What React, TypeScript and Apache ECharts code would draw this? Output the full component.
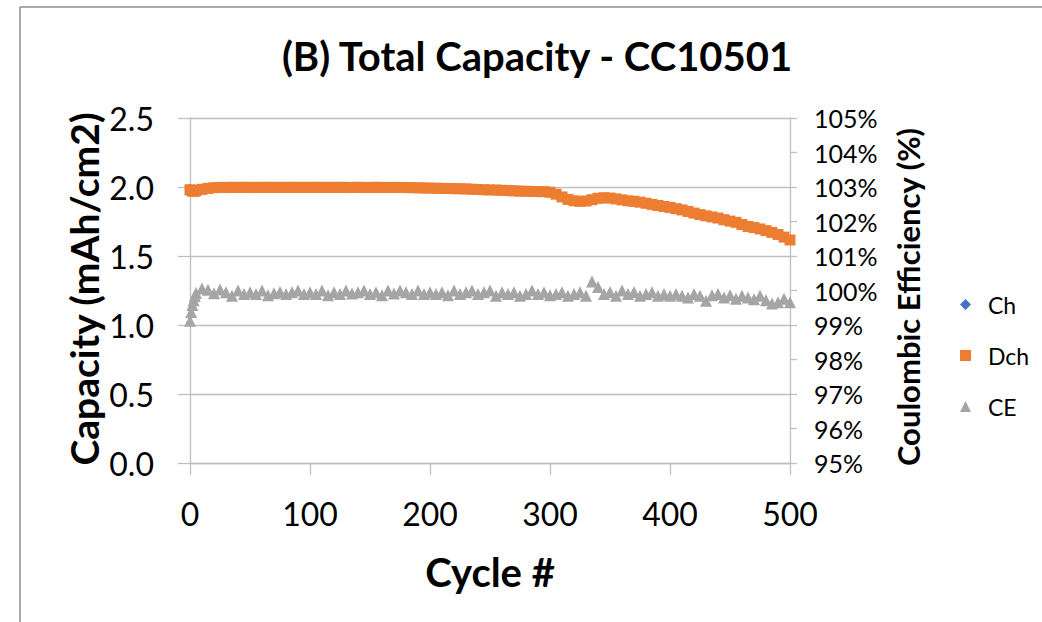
import React, { useEffect, useRef } from "react";
import * as echarts from "echarts";

const cycles = [
  0, 1, 2, 3, 4, 5,
  10, 15, 20, 25, 30, 35, 40, 45, 50,
  55, 60, 65, 70, 75, 80, 85, 90, 95, 100,
  105, 110, 115, 120, 125, 130, 135, 140, 145, 150,
  155, 160, 165, 170, 175, 180, 185, 190, 195, 200,
  205, 210, 215, 220, 225, 230, 235, 240, 245, 250,
  255, 260, 265, 270, 275, 280, 285, 290, 295, 300,
  305, 310, 315, 320, 325, 330, 335, 340, 345, 350,
  355, 360, 365, 370, 375, 380, 385, 390, 395, 400,
  405, 410, 415, 420, 425, 430, 435, 440, 445, 450,
  455, 460, 465, 470, 475, 480, 485, 490, 495, 500,
];

const dch = [
  1.98, 1.976, 1.972, 1.97, 1.971, 1.974,
  1.983, 1.99, 1.995, 1.997, 1.997, 1.998, 1.997, 1.998, 1.997,
  1.998, 1.997, 1.998, 1.997, 1.998, 1.997, 1.998, 1.997, 1.998, 1.997,
  1.998, 1.997, 1.998, 1.997, 1.998, 1.997, 1.997, 1.998, 1.997, 1.997,
  1.998, 1.997, 1.997, 1.997, 1.997, 1.996, 1.995, 1.994, 1.993, 1.992,
  1.991, 1.99, 1.989, 1.988, 1.987, 1.986, 1.984, 1.982, 1.98, 1.979,
  1.978, 1.976, 1.974, 1.972, 1.97, 1.969, 1.968, 1.967, 1.966, 1.962,
  1.948, 1.928, 1.91, 1.9, 1.896, 1.898, 1.908, 1.918, 1.922, 1.92,
  1.914, 1.907, 1.9, 1.896, 1.89, 1.882, 1.874, 1.866, 1.859, 1.852,
  1.843, 1.834, 1.823, 1.811, 1.8, 1.791, 1.783, 1.775, 1.763, 1.753,
  1.744, 1.728, 1.714, 1.706, 1.696, 1.684, 1.671, 1.656, 1.637, 1.616,
];

const ch = [
  1.995, 1.968, 1.963, 1.962, 1.963, 1.966,
  1.975, 1.982, 1.987, 1.989, 1.989, 1.99, 1.989, 1.99, 1.989,
  1.99, 1.989, 1.99, 1.989, 1.99, 1.989, 1.99, 1.989, 1.99, 1.989,
  1.99, 1.989, 1.99, 1.989, 1.99, 1.989, 1.989, 1.99, 1.989, 1.989,
  1.99, 1.989, 1.989, 1.989, 1.989, 1.988, 1.987, 1.986, 1.985, 1.984,
  1.983, 1.982, 1.981, 1.98, 1.979, 1.978, 1.976, 1.974, 1.972, 1.971,
  1.97, 1.968, 1.966, 1.964, 1.962, 1.961, 1.96, 1.959, 1.958, 1.954,
  1.94, 1.92, 1.902, 1.892, 1.888, 1.89, 1.9, 1.91, 1.914, 1.912,
  1.906, 1.899, 1.892, 1.888, 1.882, 1.874, 1.866, 1.858, 1.851, 1.844,
  1.835, 1.826, 1.815, 1.803, 1.792, 1.783, 1.775, 1.767, 1.755, 1.745,
  1.736, 1.72, 1.706, 1.698, 1.688, 1.676, 1.663, 1.648, 1.629, 1.608,
];

const ce = [
  99.12, 99.38, 99.58, 99.72, 99.84, 99.93,
  100.06, 100.02, 99.92, 100.03, 99.95, 99.85, 100.0, 99.9, 99.95,
  99.9, 100.0, 99.86, 99.92, 99.96, 99.9, 99.95, 100.0, 99.9, 99.95,
  99.9, 100.0, 99.86, 99.95, 99.9, 100.0, 99.91, 99.95, 100.0, 99.9,
  99.95, 99.86, 100.0, 99.91, 100.0, 99.95, 99.9, 100.0, 99.9, 99.95,
  99.9, 99.95, 99.86, 100.0, 99.9, 99.95, 100.0, 99.9, 99.95, 100.0,
  99.85, 99.95, 99.9, 99.95, 99.85, 99.9, 100.0, 99.9, 99.95, 99.86,
  99.9, 99.95, 99.85, 99.9, 99.95, 99.85, 100.26, 100.1, 99.9, 99.96,
  99.85, 100.0, 99.9, 99.96, 99.85, 99.9, 99.95, 99.85, 99.9, 99.85,
  99.9, 99.85, 99.8, 99.9, 99.85, 99.7, 99.86, 99.9, 99.8, 99.86,
  99.76, 99.85, 99.8, 99.75, 99.85, 99.72, 99.62, 99.66, 99.76, 99.66,
];

const seriesNames = ["Ch", "Dch", "CE"];
const titleText = "(B) Total Capacity - CC10501";
const xName = "Cycle #";
const yLeftName = "Capacity (mAh/cm2)";
const yRightName = "Coulombic Efficiency (%)";

const FONT = "Lato, 'Noto Sans', sans-serif";
const AXIS_COLOR = "#BFBFBF";

export default function App() {
  const ref = useRef<HTMLDivElement>(null);

  useEffect(() => {
    if (!ref.current) return;
    const chart = echarts.init(ref.current, null, { renderer: "svg" });
    const pairs = (vals: number[]) => cycles.map((c, i) => [c, vals[i]]);

    chart.setOption({
      animation: false,
      backgroundColor: "#ffffff",
      textStyle: { fontFamily: FONT },
      grid: { left: 190, top: 118, width: 600, height: 345 },
      legend: {
        orient: "vertical",
        left: 955,
        top: 288,
        itemWidth: 11,
        itemHeight: 11,
        itemGap: 28,
        textStyle: { fontSize: 23, fontFamily: FONT, color: "#000", lineHeight: 22, padding: [0, 0, 0, 12] },
        data: [
          { name: seriesNames[0], icon: "diamond" },
          { name: seriesNames[1], icon: "rect" },
          { name: seriesNames[2], icon: "triangle" },
        ],
      },
      xAxis: {
        type: "value",
        min: 0,
        max: 500,
        interval: 100,
        axisLine: { show: true, lineStyle: { color: AXIS_COLOR, width: 1.3 } },
        axisTick: { show: true, length: 12, lineStyle: { color: AXIS_COLOR, width: 1.3 } },
        axisLabel: { fontSize: 32, color: "#000", margin: 34, fontFamily: FONT },
        splitLine: { show: false },
      },
      yAxis: [
        {
          type: "value",
          min: 0,
          max: 2.5,
          interval: 0.5,
          axisLine: { show: true, lineStyle: { color: AXIS_COLOR, width: 1.3 } },
          axisTick: { show: true, length: 12, lineStyle: { color: AXIS_COLOR, width: 1.3 } },
          axisLabel: {
            fontSize: 32,
            color: "#000",
            margin: 36,
            fontFamily: FONT,
            formatter: (v: number) => v.toFixed(1),
          },
          splitLine: { show: true, lineStyle: { color: AXIS_COLOR, width: 1.3 } },
        },
        {
          type: "value",
          min: 95,
          max: 105,
          interval: 1,
          position: "right",
          axisLine: { show: true, lineStyle: { color: AXIS_COLOR, width: 1.3 } },
          axisTick: { show: true, length: 7, lineStyle: { color: AXIS_COLOR, width: 1.3 } },
          axisLabel: {
            fontSize: 25,
            color: "#000",
            margin: 24,
            fontFamily: FONT,
            formatter: (v: number) => `${v}%`,
          },
          splitLine: { show: false },
        },
      ],
      graphic: [
        { type: "line", shape: { x1: 20, y1: 7, x2: 1042, y2: 7 }, style: { stroke: "#8c8c8c", lineWidth: 1.5 } },
        { type: "line", shape: { x1: 20, y1: 7, x2: 20, y2: 622 }, style: { stroke: "#8c8c8c", lineWidth: 1.5 } },
        {
          type: "text",
          x: 537,
          y: 56,
          style: { text: titleText, font: `bold 40px ${FONT}`, fill: "#000", textAlign: "center", textVerticalAlign: "middle" },
        },
        {
          type: "text",
          x: 490,
          y: 572,
          style: { text: xName, font: `bold 40px ${FONT}`, fill: "#000", textAlign: "center", textVerticalAlign: "middle" },
        },
        {
          type: "text",
          x: 84,
          y: 289,
          rotation: Math.PI / 2,
          style: { text: yLeftName, font: `bold 39px ${FONT}`, fill: "#000", textAlign: "center", textVerticalAlign: "middle" },
        },
        {
          type: "text",
          x: 908,
          y: 297,
          rotation: Math.PI / 2,
          style: { text: yRightName, font: `bold 31px ${FONT}`, fill: "#000", textAlign: "center", textVerticalAlign: "middle" },
        },
      ],
      series: [
        {
          name: seriesNames[0],
          type: "scatter",
          yAxisIndex: 0,
          symbol: "diamond",
          symbolSize: 8,
          itemStyle: { color: "#4472C4", opacity: 1 },
          data: pairs(ch),
          z: 2,
        },
        {
          name: seriesNames[1],
          type: "scatter",
          yAxisIndex: 0,
          symbol: "rect",
          symbolSize: 11,
          itemStyle: { color: "#ED7D31", opacity: 1 },
          data: pairs(dch),
          z: 3,
        },
        {
          name: seriesNames[2],
          type: "scatter",
          yAxisIndex: 1,
          symbol: "triangle",
          symbolSize: 12,
          itemStyle: { color: "#A5A5A5", opacity: 1 },
          data: pairs(ce),
          z: 4,
        },
      ],
    });

    return () => chart.dispose();
  }, []);

  return (
    <div
      ref={ref}
      style={{ position: "absolute", left: 0, top: 0, width: 1042, height: 622, background: "#fff" }}
    />
  );
}
